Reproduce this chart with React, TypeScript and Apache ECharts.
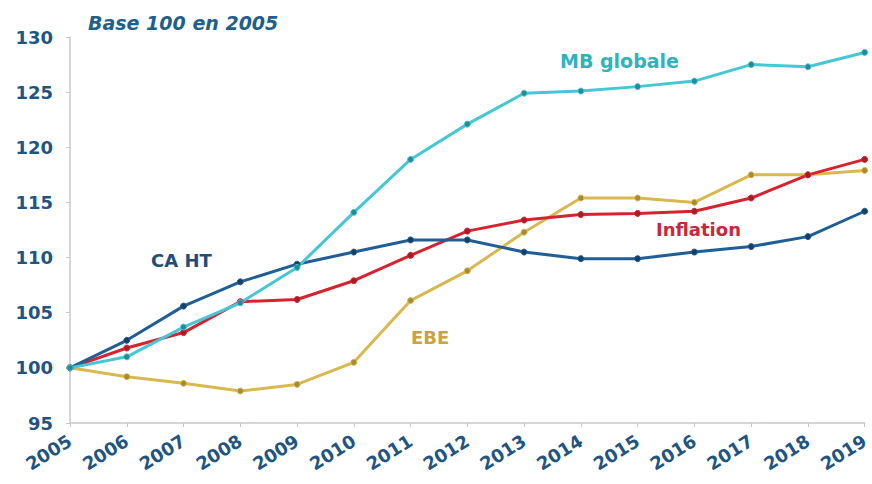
import React, { useEffect, useRef } from "react";
import * as echarts from "echarts";

const years = ["2005","2006","2007","2008","2009","2010","2011","2012","2013","2014","2015","2016","2017","2018","2019"];
const caHT = [100, 102.5, 105.6, 107.8, 109.4, 110.5, 111.6, 111.6, 110.5, 109.9, 109.9, 110.5, 111.0, 111.9, 114.2];
const mbGlobale = [100, 101.0, 103.7, 105.9, 109.1, 114.1, 118.9, 122.1, 124.9, 125.1, 125.5, 126.0, 127.5, 127.3, 128.6];
const inflation = [100, 101.8, 103.2, 106.0, 106.2, 107.9, 110.2, 112.4, 113.4, 113.9, 114.0, 114.2, 115.4, 117.5, 118.9];
const ebe = [100, 99.2, 98.6, 97.9, 98.5, 100.5, 106.1, 108.8, 112.3, 115.4, 115.4, 115.0, 117.5, 117.5, 117.9];

const FONT = "DejaVu Sans";
const AXIS_COLOR = "#1f5582";

export default function App() {
  const ref = useRef<HTMLDivElement>(null);
  useEffect(() => {
    if (!ref.current) return;
    const chart = echarts.init(ref.current, null, { renderer: "svg" });
    const mk = (name: string, data: number[], color: string, dot: string) => ({
      name,
      type: "line",
      data,
      symbol: "circle",
      symbolSize: 6,
      lineStyle: { color, width: 3 },
      itemStyle: { color: dot, borderColor: color, borderWidth: 1 },
      z: 3,
    });
    chart.setOption({
      animation: false,
      backgroundColor: "#ffffff",
      grid: { left: 70, right: 4, top: 37, bottom: 61 },
      xAxis: {
        type: "category",
        data: years,
        boundaryGap: false,
        axisLine: { lineStyle: { color: "#c8c8c8", width: 1.5 } },
        axisTick: { show: true, length: 4, lineStyle: { color: "#c8c8c8" } },
        axisLabel: {
          rotate: 32,
          color: AXIS_COLOR,
          fontFamily: FONT,
          fontWeight: "bold",
          fontSize: 18,
          margin: 16,
        },
      },
      yAxis: {
        type: "value",
        min: 95,
        max: 130,
        interval: 5,
        splitLine: { show: false },
        axisLine: { show: true, lineStyle: { color: "#c8c8c8", width: 1.5 } },
        axisTick: { show: true, length: 4, lineStyle: { color: "#c8c8c8" } },
        axisLabel: {
          color: AXIS_COLOR,
          fontFamily: FONT,
          fontWeight: "bold",
          fontSize: 18,
          margin: 17,
        },
      },
      graphic: [
        { type: "text", left: 88, top: 13, style: { text: "Base 100 en 2005", fill: "#1f5f8b", font: `italic bold 19px "${FONT}"` } },
        { type: "text", left: 560, top: 51, style: { text: "MB globale", fill: "#2fb3bd", font: `bold 19px "${FONT}"` } },
        { type: "text", left: 151, top: 251, style: { text: "CA HT", fill: "#1f4f78", font: `bold 18px "${FONT}"` } },
        { type: "text", left: 656, top: 220, style: { text: "Inflation", fill: "#c8283a", font: `bold 18px "${FONT}"` } },
        { type: "text", left: 411, top: 328, style: { text: "EBE", fill: "#c9a43e", font: `bold 18px "${FONT}"` } },
      ],
      series: [
        mk("EBE", ebe, "#d9b84e", "#a88a30"),
        mk("Inflation", inflation, "#d8222f", "#a81c26"),
        mk("CA HT", caHT, "#1f5f96", "#163f66"),
        mk("MB globale", mbGlobale, "#45c8d6", "#1f8c96"),
      ],
    });
    return () => chart.dispose();
  }, []);
  return <div ref={ref} style={{ position: "fixed", left: 0, top: 0, width: 872, height: 484 }} />;
}
